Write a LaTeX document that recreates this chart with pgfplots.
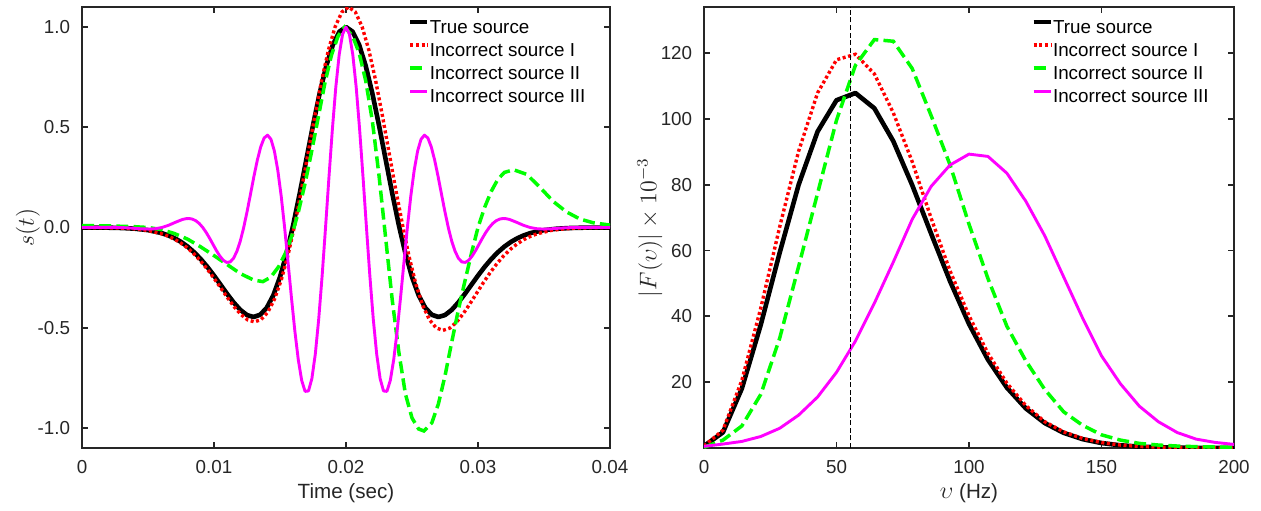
\documentclass[border=0pt]{standalone}
\usepackage{fontspec}
\setmainfont{Liberation Sans}
\usepackage{pgfplots}
\pgfplotsset{compat=1.18}
\usepackage{pgfplotstable}

\definecolor{axgray}{RGB}{38,38,38}
\definecolor{mgreen}{RGB}{0,255,0}
\definecolor{mred}{RGB}{255,0,0}
\definecolor{mmag}{RGB}{255,0,255}

% spectra: f (Hz), true, I, II, III
\pgfplotstableread{
f       bl      rd      gr      mg
0       0.6     0.6     0.2     0.5
7.143   4.75    5.41    2.4     1.2
14.286  18.08   20.57   6.7     2.0
21.429  37.47   42.54   16.3    3.5
28.571  59.38   67.21   33.4    6.0
35.714  80.01   90.22   55.2    10.0
42.857  96.15   107.9   77.4    15.5
50      105.68  117.97  99.6    23.0
57.143  107.86  119.64  116.3   32.5
64.286  103.22  113.67  124.1   44.0
71.429  93.23   101.86  123.6   56.5
78.571  79.87   86.98   115.3   69.5
85.714  65.12   69.82   101.0   79.5
92.857  50.66   53.77   86.0    86.0
100     37.69   40.2    68.0    89.3
107.143 26.86   28.8    51.5    88.6
114.286 18.35   19.7    37.0    83.5
121.429 12.04   12.9    26.5    75.0
128.571 7.59    8.0     17.8    64.5
135.714 4.60    4.9     11.0    52.0
142.857 2.69    2.9     6.9     39.5
150     1.51    1.65    4.0     28.0
157.143 0.82    0.9     2.4     19.5
164.286 0.43    0.48    1.4     12.7
171.429 0.21    0.24    0.9     8.0
178.571 0.10    0.11    0.6     4.7
185.714 0.05    0.05    0.4     2.7
192.857 0.02    0.02    0.3     1.7
200     0.01    0.01    0.2     1.1
}\spec

\pgfplotsset{
 mystyle/.style={
  scale only axis, height=220.5pt,
  axis line style={axgray, line width=0.9pt},
  tick align=inside, xtick pos=both, ytick pos=both,
  major tick length=3pt,
  tick style={axgray, line width=0.9pt},
  scaled x ticks=false, scaled y ticks=false,
  ticklabel style={font=\fontsize{9.4}{11}\selectfont, text=axgray},
  xticklabel style={yshift=-2.4pt},
  yticklabel style={xshift=-2.4pt},
  label style={font=\fontsize{10.3}{12}\selectfont, text=axgray},
  legend style={draw=none, fill=none, at={(0.617,0.983)}, anchor=north west,
    inner sep=0pt, font=\fontsize{9.4}{11}\selectfont, row sep=0pt,
    nodes={inner sep=0pt, text height=7pt, text depth=2pt},
    /tikz/every odd column/.append style={column sep=0pt},
    cells={anchor=west}},
  legend image code/.code={\path[draw=none, fill=none] (0pt,-2pt) rectangle (8.5pt,7pt);
    \draw[##1] (0pt,3.4pt) -- (8.5pt,3.4pt);},
 },
 truel/.style={black, line width=2.3pt, line join=round},
 redl/.style={mred, line width=1.7pt, dash pattern=on 1.5pt off 1.3pt},
 greenl/.style={mgreen, line width=1.75pt, dash pattern=on 6pt off 2.6pt},
 magl/.style={mmag, line width=1.45pt, line join=round},
}

\begin{document}
\begin{tikzpicture}
\useasboundingbox (-41pt,-31pt) rectangle (589.5pt,224pt);
\begin{axis}[mystyle, width=264pt, at={(0pt,0pt)}, anchor=south west,
  xmin=0, xmax=0.04, ymin=-1.1, ymax=1.1,
  xtick={0,0.01,0.02,0.03,0.04}, xticklabels={0,0.01,0.02,0.03,0.04},
  ytick={-1,-0.5,0,0.5,1}, yticklabels={-1.0,-0.5,0.0,0.5,1.0},
  xlabel={Time (sec)},
  xlabel style={at={(axis description cs:0.5,-0.102)}, anchor=center},
  ylabel={\fontsize{11.5}{13}\selectfont$s(t)$},
  ylabel style={at={(axis description cs:-0.1023,0.5)}, anchor=center},
]
\addplot[truel] coordinates {
(0,0) (0.002,-0.0009) (0.003,-0.0024) (0.004,-0.0058) (0.005,-0.0130) (0.006,-0.0273)
(0.0065,-0.0384) (0.007,-0.0530) (0.0075,-0.0717) (0.008,-0.0952) (0.0085,-0.1238)
(0.009,-0.1578) (0.0095,-0.1968) (0.010,-0.2399) (0.0105,-0.2856) (0.011,-0.3317)
(0.0115,-0.3749) (0.012,-0.4114) (0.0125,-0.4368) (0.013,-0.4463) (0.0135,-0.4353)
(0.014,-0.4000) (0.0145,-0.3375) (0.015,-0.2468) (0.0155,-0.1290) (0.016,0.0125)
(0.0165,0.1718) (0.017,0.3409) (0.0175,0.5098) (0.018,0.6681) (0.0185,0.8049)
(0.019,0.9105) (0.0195,0.9772) (0.020,1.0) (0.0205,0.9772) (0.021,0.9105)
(0.0215,0.8049) (0.022,0.6681) (0.0225,0.5098) (0.023,0.3409) (0.0235,0.1718)
(0.024,0.0125) (0.0245,-0.1290) (0.025,-0.2468) (0.0255,-0.3375) (0.026,-0.4000)
(0.0265,-0.4353) (0.027,-0.4463) (0.0275,-0.4368) (0.028,-0.4114) (0.0285,-0.3749)
(0.029,-0.3317) (0.0295,-0.2856) (0.030,-0.2399) (0.0305,-0.1968) (0.031,-0.1578)
(0.0315,-0.1238) (0.032,-0.0952) (0.0325,-0.0717) (0.033,-0.0530) (0.0335,-0.0384)
(0.034,-0.0273) (0.035,-0.0130) (0.036,-0.0058) (0.037,-0.0024) (0.038,-0.0009) (0.040,0)
};
\addlegendentry{True source}
\addplot[redl] coordinates {
(0,0) (0.00184,-0.0010) (0.00286,-0.0025) (0.00388,-0.0061) (0.0049,-0.0137)
(0.00592,-0.0288) (0.00643,-0.0405) (0.00694,-0.0559) (0.00745,-0.0756) (0.00796,-0.1004)
(0.00847,-0.1306) (0.00898,-0.1665) (0.00949,-0.2076) (0.0100,-0.2531) (0.01051,-0.3013)
(0.01102,-0.3499) (0.01153,-0.3955) (0.01204,-0.4340) (0.01255,-0.4608) (0.01306,-0.4708)
(0.01357,-0.4592) (0.01408,-0.4220) (0.01459,-0.3561) (0.0151,-0.2604) (0.01561,-0.1361)
(0.01612,0.0138) (0.01663,0.1890) (0.01714,0.3750) (0.01765,0.5608) (0.01816,0.7349)
(0.01867,0.8854) (0.01918,1.0016) (0.01969,1.0749) (0.0202,1.1) (0.02071,1.0749)
(0.02122,1.0016) (0.02173,0.8854) (0.02224,0.7349) (0.02275,0.5608) (0.02326,0.3750)
(0.02377,0.1890) (0.02428,0.0138) (0.02479,-0.1484) (0.0253,-0.2838) (0.02581,-0.3881)
(0.02632,-0.4600) (0.02683,-0.5006) (0.02734,-0.5132) (0.02785,-0.5023) (0.02836,-0.4731)
(0.02887,-0.4311) (0.02938,-0.3815) (0.02989,-0.3284) (0.0304,-0.2759) (0.03091,-0.2263)
(0.03142,-0.1815) (0.03193,-0.1424) (0.03244,-0.1095) (0.03295,-0.0825) (0.03346,-0.0610)
(0.03397,-0.0442) (0.03448,-0.0314) (0.0355,-0.0150) (0.03652,-0.0067) (0.03754,-0.0028)
(0.03856,-0.0010) (0.040,0)
};
\addlegendentry{Incorrect source I}
\addplot[greenl] coordinates {
(0,0.010) (0.002,0.008) (0.004,0.004) (0.005,0.0) (0.006,-0.01) (0.007,-0.03)
(0.008,-0.058) (0.009,-0.097) (0.010,-0.14) (0.011,-0.185) (0.012,-0.23) (0.013,-0.262)
(0.0137,-0.27) (0.0143,-0.248) (0.0149,-0.195) (0.0154,-0.13) (0.0159,-0.04) (0.0164,0.08)
(0.0169,0.22) (0.0174,0.38) (0.0179,0.55) (0.0184,0.72) (0.0189,0.86) (0.0194,0.955)
(0.0199,1.0) (0.0205,0.955) (0.021,0.87) (0.0215,0.73) (0.022,0.53) (0.0225,0.26)
(0.023,-0.05) (0.0235,-0.36) (0.024,-0.62) (0.0245,-0.83) (0.025,-0.95) (0.0255,-1.005)
(0.0259,-1.015) (0.0265,-0.975) (0.027,-0.88) (0.0275,-0.74) (0.028,-0.575) (0.0285,-0.415)
(0.029,-0.27) (0.0295,-0.13) (0.030,0.0) (0.0305,0.1) (0.031,0.18) (0.0315,0.24)
(0.032,0.275) (0.0327,0.288) (0.0337,0.265) (0.0347,0.2) (0.0357,0.13) (0.0367,0.078)
(0.0377,0.043) (0.0387,0.024) (0.040,0.012)
};
\addlegendentry{Incorrect source II}
\addplot[magl] coordinates {
(0,0) (0.0014,0.0007) (0.002433,0.0008) (0.003467,-0.0016) (0.0045,-0.0065)
(0.005017,-0.0078) (0.005533,-0.0062) (0.00605,0) (0.006567,0.0114) (0.007083,0.0262)
(0.0076,0.0398) (0.007858,0.0439) (0.008117,0.0449) (0.008375,0.0416) (0.008633,0.0333)
(0.008892,0.0195) (0.00915,0) (0.009408,-0.0246) (0.009667,-0.0533) (0.009925,-0.0842)
(0.010183,-0.1149) (0.010442,-0.1423) (0.0107,-0.1631) (0.010958,-0.1740) (0.011217,-0.1718)
(0.011475,-0.1541) (0.011733,-0.1193) (0.011992,-0.0675) (0.01225,0) (0.012508,0.0798)
(0.012767,0.1670) (0.013025,0.2550) (0.013283,0.3363) (0.013542,0.4029) (0.0138,0.4467)
(0.014058,0.4608) (0.014317,0.4400) (0.014575,0.3815) (0.014833,0.2857) (0.015092,0.1562)
(0.01535,0) (0.015608,-0.1727) (0.015867,-0.3495) (0.016125,-0.5161) (0.016383,-0.6583)
(0.016642,-0.7625) (0.0169,-0.8175) (0.017158,-0.8155) (0.017417,-0.7530) (0.017675,-0.6314)
(0.017933,-0.4572) (0.018192,-0.2417) (0.01845,0) (0.018708,0.2499) (0.018967,0.4889)
(0.019225,0.6983) (0.019483,0.8612) (0.019742,0.9646) (0.020,1.0)
(0.020258,0.9646) (0.020517,0.8612) (0.020775,0.6983) (0.021033,0.4889) (0.021292,0.2499)
(0.02155,0) (0.021808,-0.2417) (0.022067,-0.4572) (0.022325,-0.6314) (0.022583,-0.7530)
(0.022842,-0.8155) (0.0231,-0.8175) (0.023358,-0.7625) (0.023617,-0.6583) (0.023875,-0.5161)
(0.024133,-0.3495) (0.024392,-0.1727) (0.02465,0) (0.024908,0.1562) (0.025167,0.2857)
(0.025425,0.3815) (0.025683,0.4400) (0.025942,0.4608) (0.0262,0.4467) (0.026458,0.4029)
(0.026717,0.3363) (0.026975,0.2550) (0.027233,0.1670) (0.027492,0.0798) (0.02775,0)
(0.028008,-0.0675) (0.028267,-0.1193) (0.028525,-0.1541) (0.028783,-0.1718) (0.029042,-0.1740)
(0.0293,-0.1631) (0.029558,-0.1423) (0.029817,-0.1149) (0.030075,-0.0842) (0.030333,-0.0533)
(0.030592,-0.0246) (0.03085,0) (0.031108,0.0195) (0.031367,0.0333) (0.031625,0.0416)
(0.031883,0.0449) (0.032142,0.0439) (0.0324,0.0398) (0.032917,0.0262) (0.033433,0.0114)
(0.03395,0) (0.034467,-0.0062) (0.034983,-0.0078) (0.0355,-0.0065) (0.036533,-0.0016)
(0.037567,0.0008) (0.0386,0.0007) (0.040,0)
};
\addlegendentry{Incorrect source III}
\end{axis}

\begin{axis}[mystyle, width=265pt, at={(311pt,0pt)}, anchor=south west,
  xmin=0, xmax=200, ymin=0, ymax=134,
  xtick={0,50,100,150,200}, xticklabels={0,50,100,150,200},
  ytick={20,40,60,80,100,120}, yticklabels={20,40,60,80,100,120},
  xlabel={{\fontsize{11.5}{13}\selectfont$\upsilon$} (Hz)},
  xlabel style={at={(axis description cs:0.5,-0.102)}, anchor=center},
  ylabel={\fontsize{11.5}{13}\selectfont$|F(\upsilon)|\times10^{-3}$},
  ylabel style={at={(axis description cs:-0.102,0.5)}, anchor=center},
]
\addplot[truel] table[x=f, y=bl] {\spec};
\addlegendentry{True source}
\addplot[redl] table[x=f, y=rd] {\spec};
\addlegendentry{Incorrect source I}
\addplot[greenl] table[x=f, y=gr] {\spec};
\addlegendentry{Incorrect source II}
\addplot[magl] table[x=f, y=mg] {\spec};
\addlegendentry{Incorrect source III}
\addplot[forget plot, black, line width=0.5pt, dash pattern=on 2.5pt off 1.3pt]
  coordinates {(55.3,0) (55.3,134)};
\end{axis}
\end{tikzpicture}
\end{document}
